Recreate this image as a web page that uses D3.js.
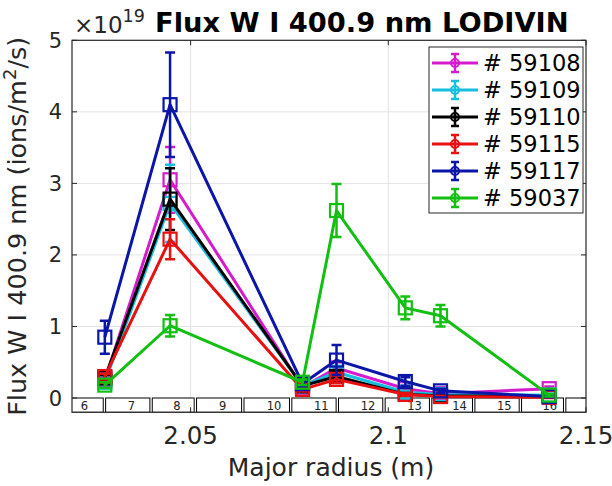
<!DOCTYPE html>
<html><head><meta charset="utf-8">
<script src="https://cdn.jsdelivr.net/npm/d3@7"></script>
<style>body{margin:0;background:#fff}svg{display:block;font-family:"DejaVu Sans",sans-serif}</style>
</head><body>
<script>
// ---------- data ----------
const radii = [2.0283, 2.0448, 2.0783, 2.0869, 2.1043, 2.1132, 2.1407];
const shots = ["59108", "59109", "59110", "59115", "59117", "59037"];
const flux59108 = [0.25, 3.05, 0.15, 0.42, 0.13, 0.06, 0.13];
const err59108  = [0.04, 0.46, 0.03, 0.08, 0.03, 0.02, 0.03];
const flux59109 = [0.22, 2.72, 0.17, 0.36, 0.08, 0.05, 0.04];
const err59109  = [0.04, 0.54, 0.03, 0.07, 0.02, 0.02, 0.02];
const flux59110 = [0.28, 2.78, 0.17, 0.30, 0.05, 0.03, 0.02];
const err59110  = [0.04, 0.43, 0.03, 0.06, 0.02, 0.01, 0.01];
const flux59115 = [0.30, 2.22, 0.12, 0.26, 0.05, 0.02, 0.01];
const err59115  = [0.04, 0.28, 0.03, 0.05, 0.02, 0.01, 0.01];
const flux59117 = [0.85, 4.10, 0.20, 0.53, 0.23, 0.10, 0.02];
const err59117  = [0.23, 0.73, 0.04, 0.21, 0.06, 0.03, 0.01];
const flux59037 = [0.18, 1.01, 0.22, 2.62, 1.26, 1.15, 0.04];
const err59037  = [0.04, 0.15, 0.04, 0.37, 0.16, 0.15, 0.02];
const xTicks = [2.05, 2.1, 2.15];
const xTickLabels = ["2.05", "2.1", "2.15"];
const yTicks = [0, 1, 2, 3, 4, 5];
const tileStart = [2.0165, 2.0285, 2.0403, 2.0515, 2.0635, 2.0756, 2.0874, 2.0992, 2.1110, 2.1219, 2.1337, 2.1449];
const tileEnd   = [2.0279, 2.0397, 2.0509, 2.0629, 2.0750, 2.0868, 2.0986, 2.1104, 2.1213, 2.1331, 2.1443, 2.1560];
const tileLabels = ["6","7","8","9","10","11","12","13","14","15","16",""];

const fluxes = [flux59108, flux59109, flux59110, flux59115, flux59117, flux59037];
const errs = [err59108, err59109, err59110, err59115, err59117, err59037];
const colors = ["#d41ccc", "#17bfdf", "#000000", "#e81010", "#0b16a8", "#12bf12"];

// ---------- layout ----------
const W = 612, H = 486;
const L = 72, R = 586, T = 40.3, B = 412.3;
const x = d3.scaleLinear().domain([2.02, 2.15]).range([L, R]);
const y = d3.scaleLinear().domain([-0.2, 5]).range([B, T]);

const svg = d3.select("body").append("svg").attr("width", W).attr("height", H);
svg.append("defs").append("clipPath").attr("id", "clip")
  .append("rect").attr("x", L).attr("y", T).attr("width", R - L).attr("height", B - T);

// grid
const grid = svg.append("g").attr("stroke", "#e3e3e3").attr("stroke-width", 1);
[1, 2, 3, 4].forEach(v => grid.append("line").attr("x1", L).attr("x2", R).attr("y1", y(v)).attr("y2", y(v)));
[2.05, 2.1].forEach(v => grid.append("line").attr("x1", x(v)).attr("x2", x(v)).attr("y1", T).attr("y2", B));

// tiles strip
const strip = svg.append("g").attr("clip-path", "url(#clip)");
tileStart.forEach((s, i) => {
  strip.append("rect").attr("x", x(s)).attr("y", y(0)).attr("width", x(tileEnd[i]) - x(s))
    .attr("height", y(-0.2) - y(0)).attr("fill", "#fff").attr("stroke", "#000").attr("stroke-width", 1);
  strip.append("text").attr("x", x((s + tileEnd[i]) / 2)).attr("y", y(-0.17))
    .attr("font-size", 11.5).attr("fill", "#222").text(tileLabels[i]);
});

// series
const plot = svg.append("g").attr("clip-path", "url(#clip)");
const line = d3.line().x((d, i) => x(radii[i])).y(d => y(d));
fluxes.forEach((f, k) => {
  const g = plot.append("g").attr("stroke", colors[k]).attr("fill", "none");
  g.append("path").attr("d", line(f)).attr("stroke-width", 3).attr("stroke-linejoin", "round");
  f.forEach((v, i) => {
    const cx = x(radii[i]), e = errs[k][i];
    const y1 = y(v + e), y2 = y(v - e);
    g.append("line").attr("x1", cx).attr("x2", cx).attr("y1", y1).attr("y2", y2).attr("stroke-width", 2.5);
    g.append("line").attr("x1", cx - 5).attr("x2", cx + 5).attr("y1", y1).attr("y2", y1).attr("stroke-width", 2.5);
    g.append("line").attr("x1", cx - 5).attr("x2", cx + 5).attr("y1", y2).attr("y2", y2).attr("stroke-width", 2.5);
    g.append("rect").attr("x", cx - 6.5).attr("y", y(v) - 6.5).attr("width", 13).attr("height", 13).attr("stroke-width", 2.2);
  });
});

// axes box
svg.append("rect").attr("x", L).attr("y", T).attr("width", R - L).attr("height", B - T)
  .attr("fill", "none").attr("stroke", "#262626").attr("stroke-width", 1.2);
// ticks
const tk = svg.append("g").attr("stroke", "#262626").attr("stroke-width", 1);
xTicks.forEach(v => { tk.append("line").attr("x1", x(v)).attr("x2", x(v)).attr("y1", B).attr("y2", B - 5);
  tk.append("line").attr("x1", x(v)).attr("x2", x(v)).attr("y1", T).attr("y2", T + 5); });
yTicks.forEach(v => { tk.append("line").attr("x1", L).attr("x2", L + 5).attr("y1", y(v)).attr("y2", y(v));
  tk.append("line").attr("x1", R).attr("x2", R - 5).attr("y1", y(v)).attr("y2", y(v)); });

// tick labels
xTicks.forEach((v, i) => svg.append("text").attr("x", x(v)).attr("y", 444).attr("text-anchor", "middle")
  .attr("font-size", 24.5).attr("fill", "#262626").text(xTickLabels[i]));
yTicks.forEach(v => svg.append("text").attr("x", 62).attr("y", y(v)).attr("dy", "0.36em").attr("text-anchor", "end")
  .attr("font-size", 21).attr("fill", "#262626").text(v));

// exponent
const ex = svg.append("text").attr("x", 74).attr("y", 33).attr("font-size", 23).attr("fill", "#262626");
ex.append("tspan").text("×10");
ex.append("tspan").attr("font-size", 17.5).attr("dy", -11).text("19");

// title
svg.append("text").attr("x", 155).attr("y", 32).attr("font-size", 27.3).attr("font-weight", "bold")
  .attr("fill", "#000").text("Flux W I 400.9 nm LODIVIN");

// axis labels
svg.append("text").attr("x", (L + R) / 2 + 2).attr("y", 476).attr("text-anchor", "middle")
  .attr("font-size", 25).attr("fill", "#262626").text("Major radius (m)");
const yl = svg.append("text").attr("transform", `translate(26,${(T + B) / 2}) rotate(-90)`)
  .attr("text-anchor", "middle").attr("font-size", 25.5).attr("fill", "#262626");
yl.append("tspan").text("Flux W I 400.9 nm (ions/m");
yl.append("tspan").attr("font-size", 18).attr("dy", -10).text("2");
yl.append("tspan").attr("dy", 10).text("/s)");

// legend
const lg = svg.append("g");
lg.append("rect").attr("x", 429).attr("y", 47).attr("width", 154).attr("height", 166)
  .attr("fill", "#fff").attr("stroke", "#262626").attr("stroke-width", 1);
shots.forEach((s, k) => {
  const cy = 63 + k * 27;
  const g = lg.append("g").attr("stroke", colors[k]).attr("fill", "none");
  g.append("line").attr("x1", 432).attr("x2", 478).attr("y1", cy).attr("y2", cy).attr("stroke-width", 3);
  g.append("line").attr("x1", 455).attr("x2", 455).attr("y1", cy - 9).attr("y2", cy + 9).attr("stroke-width", 2.5);
  g.append("line").attr("x1", 451).attr("x2", 459).attr("y1", cy - 9).attr("y2", cy - 9).attr("stroke-width", 2.5);
  g.append("line").attr("x1", 451).attr("x2", 459).attr("y1", cy + 9).attr("y2", cy + 9).attr("stroke-width", 2.5);
  g.append("circle").attr("cx", 455).attr("cy", cy).attr("r", 4).attr("stroke-width", 2);
  lg.append("text").attr("x", 483).attr("y", cy).attr("dy", "0.36em").attr("font-size", 22.5)
    .attr("fill", "#000").text("# " + s);
});
</script>
</body></html>
